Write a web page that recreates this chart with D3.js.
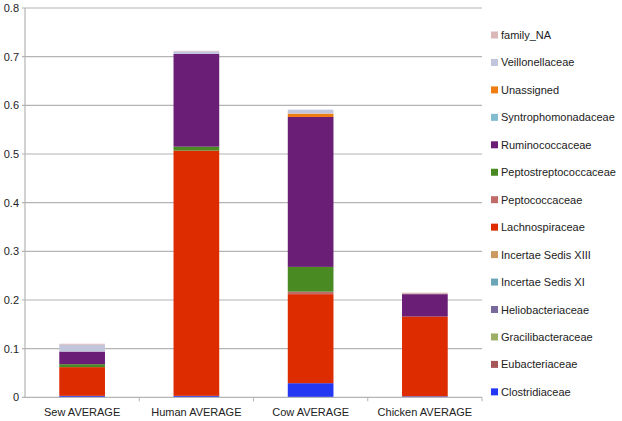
<!DOCTYPE html>
<html>
<head>
<meta charset="utf-8">
<script src="https://cdn.jsdelivr.net/npm/d3@7"></script>
<style>
  body { margin: 0; background: #fff; }
  text { font-family: "Liberation Sans", Arial, sans-serif; fill: #222; }
</style>
</head>
<body>
<div id="chart"></div>
<script>
// categories on the x axis
const samples = ["Sew AVERAGE", "Human AVERAGE", "Cow AVERAGE", "Chicken AVERAGE"];

// stacking order, bottom to top
const families = [
    "Clostridiaceae", "Eubacteriaceae", "Gracilibacteraceae", "Heliobacteriaceae",
    "Incertae Sedis XI", "Incertae Sedis XIII", "Lachnospiraceae", "Peptococcaceae",
    "Peptostreptococcaceae", "Ruminococcaceae", "Syntrophomonadaceae", "Unassigned",
    "Veillonellaceae", "family_NA"
];

const familyColors = [
    "#2438f4", "#a65656", "#9caf64", "#786a9c",
    "#6aa6b8", "#cc9a60", "#dd2c00", "#c06a6a",
    "#4a8a22", "#6a1e76", "#82bcd0", "#ef7d12",
    "#c2c6dc", "#dab8b8"
];

// one value per sample, in the order of `samples`
const clostridiaceae        = [0.003, 0.003, 0.029, 0.002];
const eubacteriaceae        = [0, 0, 0, 0];
const gracilibacteraceae    = [0, 0, 0, 0];
const heliobacteriaceae     = [0, 0, 0, 0];
const incertaeSedisXI       = [0, 0, 0, 0];
const incertaeSedisXIII     = [0, 0, 0, 0];
const lachnospiraceae       = [0.059, 0.504, 0.183, 0.164];
const peptococcaceae        = [0, 0, 0.005, 0];
const peptostreptococcaceae = [0.006, 0.008, 0.051, 0];
const ruminococcaceae       = [0.026, 0.191, 0.308, 0.046];
const syntrophomonadaceae   = [0, 0, 0, 0];
const unassigned            = [0, 0, 0.007, 0];
const veillonellaceae       = [0.014, 0.005, 0.008, 0];
const familyNA              = [0.002, 0.001, 0, 0.003];

const yTicks = [0, 0.1, 0.2, 0.3, 0.4, 0.5, 0.6, 0.7, 0.8];

const seriesValues = [
    clostridiaceae, eubacteriaceae, gracilibacteraceae, heliobacteriaceae,
    incertaeSedisXI, incertaeSedisXIII, lachnospiraceae, peptococcaceae,
    peptostreptococcaceae, ruminococcaceae, syntrophomonadaceae, unassigned,
    veillonellaceae, familyNA
];

// table for d3.stack
const table = samples.map((s, i) => {
    const row = { sample: s };
    families.forEach((f, j) => { row[f] = seriesValues[j][i]; });
    return row;
});

const width = 622;
const height = 421;
const margin = { top: 8, right: 140, bottom: 24, left: 25 };

const svg = d3.select("#chart")
    .append("svg")
    .attr("width", width)
    .attr("height", height);

const x = d3.scaleBand()
    .domain(samples)
    .range([margin.left, 482]);

const y = d3.scaleLinear()
    .domain([0, 0.8])
    .range([397.3, margin.top]);

// gridlines
svg.append("g")
    .selectAll("line")
    .data(yTicks.filter(d => d > 0))
    .enter().append("line")
    .attr("x1", margin.left - 3)
    .attr("x2", 482)
    .attr("y1", d => y(d))
    .attr("y2", d => y(d))
    .attr("stroke", "#b4b4b4")
    .attr("stroke-width", 1.2);

// y labels
svg.append("g")
    .selectAll("text")
    .data(yTicks)
    .enter().append("text")
    .attr("x", 19)
    .attr("y", d => y(d) + 4)
    .attr("text-anchor", "end")
    .style("font-size", "11px")
    .text(d => d === 0 ? "0" : d3.format(".1f")(d));

// stacked bars
const stack = d3.stack().keys(families);
const layers = stack(table);
const barW = x.bandwidth() * 0.4;

svg.append("g")
    .selectAll("g")
    .data(layers)
    .enter().append("g")
    .attr("fill", (d, i) => familyColors[i])
    .selectAll("rect")
    .data(d => d)
    .enter().append("rect")
    .attr("x", d => x(d.data.sample) + (x.bandwidth() - barW) / 2)
    .attr("width", barW)
    .attr("y", d => y(d[1]))
    .attr("height", d => Math.max(0, y(d[0]) - y(d[1])));

// axes lines
svg.append("line")
    .attr("x1", margin.left).attr("x2", margin.left)
    .attr("y1", margin.top).attr("y2", y(0))
    .attr("stroke", "#b4b4b4").attr("stroke-width", 1.2);

svg.append("line")
    .attr("x1", margin.left - 3).attr("x2", 482)
    .attr("y1", y(0)).attr("y2", y(0))
    .attr("stroke", "#b4b4b4").attr("stroke-width", 1.2);

// category ticks between bars
const bounds = samples.map(s => x(s) + x.bandwidth()).slice(0, samples.length);
svg.append("g")
    .selectAll("line")
    .data(bounds)
    .enter().append("line")
    .attr("x1", d => d).attr("x2", d => d)
    .attr("y1", y(0)).attr("y2", y(0) + 4)
    .attr("stroke", "#b4b4b4").attr("stroke-width", 1);

// category labels
svg.append("g")
    .selectAll("text")
    .data(samples)
    .enter().append("text")
    .attr("x", d => x(d) + x.bandwidth() / 2)
    .attr("y", 416)
    .attr("text-anchor", "middle")
    .style("font-size", "11px")
    .text(d => d);

// legend, top entry is the last series
const legendItems = families.map((f, i) => ({ name: f, color: familyColors[i] })).reverse();

const legend = svg.append("g")
    .selectAll("g")
    .data(legendItems)
    .enter().append("g")
    .attr("transform", (d, i) => `translate(491,${35 + i * 27.45})`);

legend.append("rect")
    .attr("x", 0)
    .attr("y", -3.5)
    .attr("width", 7)
    .attr("height", 7)
    .attr("fill", d => d.color);

legend.append("text")
    .attr("x", 10)
    .attr("y", 4)
    .style("font-size", "11px")
    .text(d => d.name);
</script>
</body>
</html>
